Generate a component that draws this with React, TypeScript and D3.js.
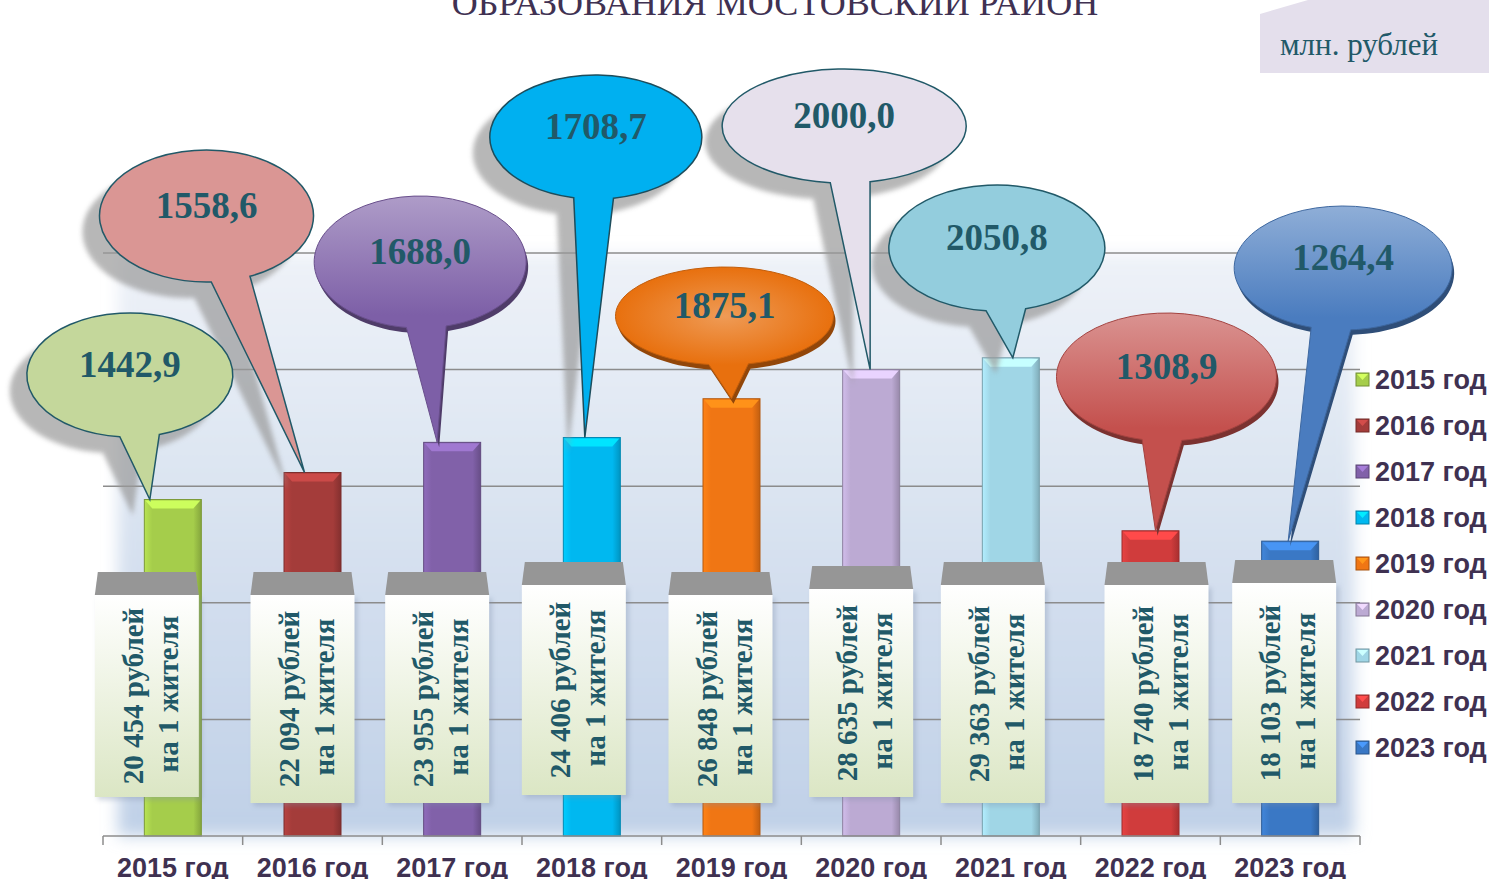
import {useRef, useEffect} from 'react'
import * as d3 from 'd3'

// данные
const years = ['2015 год', '2016 год', '2017 год', '2018 год', '2019 год', '2020 год', '2021 год', '2022 год', '2023 год']
const values = [1442.9, 1558.6, 1688.0, 1708.7, 1875.1, 2000.0, 2050.8, 1308.9, 1264.4]
const perCapita = ['20 454', '22 094', '23 955', '24 406', '26 848', '28 635', '29 363', '18 740', '18 103']

const barColors = ['#a5cd4b', '#a43c3a', '#8161a9', '#00b8f0', '#f07614', '#bcaad3', '#a0d6e6', '#d03c3c', '#3a78c5']
const bubbleFills = ['#c4d79b', '#da9694', '#7d5fa7', '#00b0f0', '#e8700e', '#e6e0ec', '#93cddd', '#c4504d', '#4a7cbf']
// flat = плоская выноска с тенью, иначе объёмная
const bubbleFlat = [true, true, false, true, false, true, true, false, false]

// расположение выносок (относительно центра столбца)
const bubbleDx = [-43, -106, -32, 4, -7, -27, -14, 16, 53]
const bubbleCy = [375, 216, 262, 137, 316, 126, 248, 377, 268]
const bubbleRx = [103, 107, 106, 106, 109, 122, 108, 110, 109]
const bubbleRy = [62, 66, 66, 62, 49, 57, 63, 64, 62]
const tipDx = [-23, -8, -15, -7, 0, -1, 2, 5, -2]

// подписи "рублей на 1 жителя"
const boxDx = [-26, -10, -15, -18, -11, -10, -18, 6, -6]
const boxTop = [572, 572, 572, 562, 572, 566, 562, 562, 560]
const boxBottom = [797, 803, 803, 795, 803, 797, 803, 803, 803]

const fmt = (v: number) => d3.format('.1f')(v).replace('.', ',')

function bubblePath(cx: number, cy: number, rx: number, ry: number, tx: number, ty: number) {
    const th = Math.atan2((ty - cy) / ry, (tx - cx) / rx)
    const d = 20 / rx
    const p = (a: number) => [cx + rx * Math.cos(a), cy + ry * Math.sin(a)]
    const [x1, y1] = p(th + d)
    const [x2, y2] = p(th - d)
    return `M${x1},${y1} A${rx},${ry} 0 1 1 ${x2},${y2} L${tx},${ty} Z`
}

export default function App() {
    const ref = useRef<HTMLDivElement>(null)

    useEffect(() => {
        const width = 1489
        const height = 879
        const teal = '#215968'
        const ink = '#3f3151'

        const x = d3.scaleBand().domain(years).range([103, 1360])
        const y = d3.scaleLinear().domain([0, 2500]).range([836, 253])
        const barW = 57
        const mid = (i: number) => (x(years[i]) as number) + x.bandwidth() / 2

        const svg = d3.create('svg')
            .attr('width', width)
            .attr('height', height)
            .style('display', 'block')
            .style('background', 'white')

        const defs = svg.append('defs')
        defs.append('filter').attr('id', 'blur2').attr('x', '-20%').attr('y', '-20%').attr('width', '140%').attr('height', '140%')
            .append('feGaussianBlur').attr('stdDeviation', 2.5)
        defs.append('filter').attr('id', 'blur8').attr('x', '-10%').attr('y', '-10%').attr('width', '120%').attr('height', '120%')
            .append('feGaussianBlur').attr('stdDeviation', 8)
        defs.append('filter').attr('id', 'blur4').attr('x', '-10%').attr('y', '-200%').attr('width', '120%').attr('height', '500%')
            .append('feGaussianBlur').attr('stdDeviation', 4)

        const wall = defs.append('linearGradient').attr('id', 'wall').attr('x1', 0).attr('y1', 0).attr('x2', 0).attr('y2', 1)
        wall.append('stop').attr('offset', 0).attr('stop-color', '#eef2f8')
        wall.append('stop').attr('offset', 1).attr('stop-color', '#bfd0e7')

        const boxGrad = defs.append('linearGradient').attr('id', 'boxg').attr('x1', 0).attr('y1', 0).attr('x2', 0).attr('y2', 1)
        boxGrad.append('stop').attr('offset', 0).attr('stop-color', '#ffffff')
        boxGrad.append('stop').attr('offset', 1).attr('stop-color', '#dbe6c4')

        // заголовок (обрезан сверху) и единицы
        svg.append('text')
            .attr('x', 775).attr('y', 15)
            .attr('text-anchor', 'middle')
            .style('font-family', '"Liberation Serif", serif')
            .style('font-size', '36px')
            .style('fill', '#403152')
            .text('ОБРАЗОВАНИЯ МОСТОВСКИЙ РАЙОН')

        svg.append('path')
            .attr('d', 'M1260,14 L1308,0 L1489,0 L1489,73 L1260,73 Z')
            .style('fill', '#e4dfec')
        svg.append('text')
            .attr('x', 1280).attr('y', 55)
            .style('font-family', '"Liberation Serif", serif')
            .style('font-size', '31px')
            .style('fill', teal)
            .text('млн. рублей')

        // фон области построения
        svg.append('rect')
            .attr('x', 118).attr('y', y(2500)).attr('width', 1236).attr('height', y(0) - y(2500))
            .attr('filter', 'url(#blur8)')
            .style('fill', 'url(#wall)')

        // сетка
        const ticks = y.ticks(5).filter(t => t > 0)
        svg.append('g').selectAll('line')
            .data(ticks)
            .enter().append('line')
            .attr('x1', 110).attr('x2', 1355)
            .attr('y1', d => y(d) + 21).attr('y2', d => y(d) + 21)
            .attr('filter', 'url(#blur4)')
            .style('stroke', '#8a97ad').style('stroke-width', 7).style('opacity', 0.35)
        svg.append('g').selectAll('line')
            .data(ticks)
            .enter().append('line')
            .attr('x1', 103).attr('x2', 1360)
            .attr('y1', d => y(d)).attr('y2', d => y(d))
            .style('stroke', '#8c8c8c').style('stroke-width', 1.5)

        // столбцы
        values.forEach((v, i) => {
            const c = barColors[i]
            const g = defs.append('linearGradient').attr('id', 'bar' + i).attr('x1', 0).attr('x2', 1).attr('y1', 0).attr('y2', 0)
            g.append('stop').attr('offset', 0).attr('stop-color', d3.color(c)!.brighter(0.3).toString())
            g.append('stop').attr('offset', 0.14).attr('stop-color', c)
            g.append('stop').attr('offset', 0.86).attr('stop-color', c)
            g.append('stop').attr('offset', 1).attr('stop-color', d3.color(c)!.darker(0.6).toString())
        })
        const bars = svg.append('g')
        values.forEach((v, i) => {
            const x0 = mid(i) - barW / 2
            const top = y(v)
            const c = barColors[i]
            bars.append('rect')
                .attr('x', x0).attr('y', top).attr('width', barW).attr('height', y(0) - top)
                .style('fill', `url(#bar${i})`)
                .style('stroke', d3.color(c)!.darker(0.8).toString()).style('stroke-width', 1)
            bars.append('path')
                .attr('d', `M${x0 + 1},${top + 1} L${x0 + barW - 1},${top + 1} L${x0 + barW - 8},${top + 9} L${x0 + 8},${top + 9} Z`)
                .style('fill', d3.color(c)!.brighter(0.6).toString())
        })

        // тени выносок
        const shadows = svg.append('g')
        values.forEach((v, i) => {
            if (!bubbleFlat[i]) return
            const cx = mid(i) + bubbleDx[i]
            shadows.append('path')
                .attr('d', bubblePath(cx, bubbleCy[i], bubbleRx[i], bubbleRy[i], mid(i) + tipDx[i], y(v)))
                .attr('transform', 'translate(-17,16)')
                .attr('filter', 'url(#blur2)')
                .style('fill', '#9a9a9a').style('opacity', 0.7)
        })

        // выноски
        const bubbles = svg.append('g')
        values.forEach((v, i) => {
            const cx = mid(i) + bubbleDx[i]
            const cy = bubbleCy[i]
            const ry = bubbleRy[i]
            const d = bubblePath(cx, cy, bubbleRx[i], ry, mid(i) + tipDx[i], y(v))
            const f = bubbleFills[i]
            if (bubbleFlat[i]) {
                bubbles.append('path').attr('d', d)
                    .style('fill', f)
                    .style('stroke', i === 3 ? '#1d4d5c' : teal).style('stroke-width', 1.5)
            } else {
                const light = d3.interpolateRgb(f, '#ffffff')(i === 4 ? 0.3 : 0.38)
                if (i === 4) {
                    const g = defs.append('radialGradient').attr('id', 'bub' + i)
                        .attr('gradientUnits', 'userSpaceOnUse')
                        .attr('cx', cx).attr('cy', cy).attr('r', bubbleRx[i])
                        .attr('gradientTransform', `translate(${cx},${cy}) scale(1,${ry / bubbleRx[i]}) translate(${-cx},${-cy})`)
                    g.append('stop').attr('offset', 0).attr('stop-color', light)
                    g.append('stop').attr('offset', 1).attr('stop-color', f)
                } else {
                    const g = defs.append('linearGradient').attr('id', 'bub' + i)
                        .attr('gradientUnits', 'userSpaceOnUse')
                        .attr('x1', 0).attr('x2', 0).attr('y1', cy - ry).attr('y2', cy + ry * 0.8)
                    g.append('stop').attr('offset', 0).attr('stop-color', light)
                    g.append('stop').attr('offset', 1).attr('stop-color', f)
                }
                bubbles.append('path').attr('d', d)
                    .attr('transform', 'translate(2,5)')
                    .style('fill', d3.color(f)!.darker(1.3).toString())
                bubbles.append('path').attr('d', d)
                    .style('fill', `url(#bub${i})`)
                    .style('stroke', d3.color(f)!.darker(0.5).toString()).style('stroke-width', 1)
            }
            bubbles.append('text')
                .attr('x', cx).attr('y', cy + 2)
                .attr('text-anchor', 'middle')
                .style('font-family', '"Liberation Serif", serif')
                .style('font-weight', 'bold')
                .style('font-size', '37px')
                .style('fill', teal)
                .text(fmt(v))
        })

        // рамки с подписями на жителя
        const boxes = svg.append('g')
        perCapita.forEach((p, i) => {
            const bc = mid(i) + boxDx[i]
            const l = bc - 52
            const r = bc + 52
            const t = boxTop[i]
            const b = boxBottom[i]
            boxes.append('rect')
                .attr('x', l + 3).attr('y', t + 26).attr('width', r - l).attr('height', b - t - 23)
                .attr('filter', 'url(#blur2)')
                .style('fill', '#7f8ea8').style('opacity', 0.35)
            boxes.append('path')
                .attr('d', `M${l + 3},${t} L${r - 3},${t} L${r},${t + 23} L${l},${t + 23} Z`)
                .style('fill', '#969696')
            boxes.append('rect')
                .attr('x', l).attr('y', t + 23).attr('width', r - l).attr('height', b - t - 23)
                .style('fill', 'url(#boxg)')
            const cyb = (t + 23 + b) / 2
            const tg = boxes.append('g')
                .attr('transform', `translate(${bc},${cyb}) rotate(-90)`)
                .style('font-family', '"Liberation Serif", serif')
                .style('font-weight', 'bold')
                .style('font-size', '29px')
                .style('fill', teal)
                .attr('text-anchor', 'middle')
            tg.append('text').attr('x', 0).attr('y', -4).text(`${p} рублей`)
            tg.append('text').attr('x', 2).attr('y', 31).text('на 1 жителя')
        })

        // ось X
        const axis = svg.append('g')
        axis.append('line')
            .attr('x1', 103).attr('x2', 1360).attr('y1', y(0)).attr('y2', y(0))
            .style('stroke', '#8c8c8c').style('stroke-width', 1.5)
        axis.selectAll('line.tick')
            .data(d3.range(years.length + 1))
            .enter().append('line')
            .attr('class', 'tick')
            .attr('x1', d => 103 + d * x.step()).attr('x2', d => 103 + d * x.step())
            .attr('y1', y(0)).attr('y2', y(0) + 9)
            .style('stroke', '#8c8c8c').style('stroke-width', 1.5)
        axis.selectAll('text')
            .data(years)
            .enter().append('text')
            .attr('x', d => (x(d) as number) + x.bandwidth() / 2)
            .attr('y', 877)
            .attr('text-anchor', 'middle')
            .style('font-family', '"Liberation Sans", Arial, sans-serif')
            .style('font-weight', 'bold')
            .style('font-size', '27px')
            .style('fill', ink)
            .text(d => d)

        // легенда
        const legend = svg.append('g')
        years.forEach((yr, i) => {
            const ly = 389 + i * 46
            const c = barColors[i]
            legend.append('rect')
                .attr('x', 1356).attr('y', ly - 16).attr('width', 13).attr('height', 13)
                .style('fill', c)
                .style('stroke', d3.color(c)!.darker(1).toString()).style('stroke-width', 1)
            legend.append('path')
                .attr('d', `M1357,${ly - 15} L1368,${ly - 15} L1362.5,${ly - 9} Z`)
                .style('fill', d3.color(c)!.brighter(0.7).toString())
            legend.append('text')
                .attr('x', 1375).attr('y', ly)
                .style('font-family', '"Liberation Sans", Arial, sans-serif')
                .style('font-weight', 'bold')
                .style('font-size', '27px')
                .style('fill', ink)
                .text(yr)
        })

        ref.current!.append(svg.node()!)
        return () => { svg.node()!.remove() }
    }, [])

    return <div ref={ref} style={{position: 'absolute', left: 0, top: 0, width: 1489, height: 879, overflow: 'hidden'}}></div>
}
